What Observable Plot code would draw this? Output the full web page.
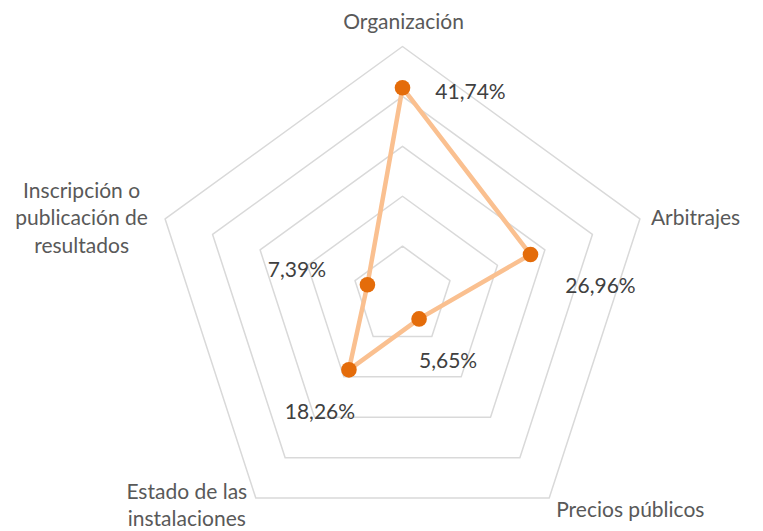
<!DOCTYPE html>
<html>
<head>
<meta charset="utf-8">
<script src="https://cdn.jsdelivr.net/npm/d3@7"></script>
<script src="https://cdn.jsdelivr.net/npm/@observablehq/plot@0.6"></script>
<style>
  body { margin: 0; background: #ffffff; }
  #chart svg { display: block; }
</style>
</head>
<body>
<div id="chart"></div>
<script>
// ---- data ----
const categories = ["Organización", "Arbitrajes", "Precios públicos", "Estado de las\ninstalaciones", "Inscripción o\npublicación de\nresultados"];
const values = [41.74, 26.96, 5.65, 18.26, 7.39];
const valueLabels = ["41,74%", "26,96%", "5,65%", "18,26%", "7,39%"];
const ringTicks = [10, 20, 30, 40, 50];

// ---- layout / style (not data) ----
const W = 763, H = 531;
const CX = 402, CY = 295.6, RPX = 249.6, RMAX = 50;
const k = RPX / RMAX;
const catLabelStyle = [
  {textAnchor: "middle", dx: 1, dy: -26},
  {textAnchor: "start", dx: 11, dy: -3},
  {textAnchor: "start", dx: 7, dy: 10},
  {textAnchor: "middle", dx: -69, dy: 6},
  {textAnchor: "middle", dx: -83.5, dy: -2.5}
];
const valueLabelOffset = [
  {dx: 68, dy: 4.5},
  {dx: 70, dy: 32},
  {dx: 29, dy: 42},
  {dx: -29, dy: 42},
  {dx: -70.5, dy: -14}
];

const n = categories.length;
const ang = i => (i * 2 * Math.PI) / n;
const px = (r, i) => r * Math.sin(ang(i));
const py = (r, i) => r * Math.cos(ang(i));

const rings = ringTicks.flatMap(t => categories.map((c, i) => ({ring: t, x: px(t, i), y: py(t, i)})));
const series = values.map((v, i) => ({cat: categories[i], v, label: valueLabels[i], x: px(v, i), y: py(v, i)}));

const font = "Lato, 'Open Sans', sans-serif";

const marks = [
  Plot.line(rings, {x: "x", y: "y", z: "ring", curve: "linear-closed", stroke: "#d9d9d9", strokeWidth: 1.5}),
  Plot.line(series, {x: "x", y: "y", curve: "linear-closed", stroke: "#fac090", strokeWidth: 4.5, strokeLinejoin: "round"}),
  Plot.dot(series, {x: "x", y: "y", r: 7.8, fill: "#e46c0a", stroke: "none"}),
  ...categories.map((c, i) => Plot.text([c], {
    x: () => px(RMAX, i), y: () => py(RMAX, i), text: d => d,
    textAnchor: catLabelStyle[i].textAnchor, lineAnchor: "middle",
    dx: catLabelStyle[i].dx, dy: catLabelStyle[i].dy,
    fontSize: 21, lineHeight: 1.3, fill: "#595959", fontFamily: font
  })),
  ...series.map((d, i) => Plot.text([d], {
    x: "x", y: "y", text: "label", textAnchor: "middle", lineAnchor: "middle",
    dx: valueLabelOffset[i].dx, dy: valueLabelOffset[i].dy,
    fontSize: 21, fill: "#404040", fontFamily: font
  }))
];

const chart = Plot.plot({
  width: W, height: H,
  marginTop: 0, marginRight: 0, marginBottom: 0, marginLeft: 0,
  x: {domain: [-CX / k, (W - CX) / k], axis: null},
  y: {domain: [-(H - CY) / k, CY / k], axis: null},
  style: {background: "#ffffff", fontFamily: font, overflow: "visible"},
  marks
});
document.getElementById("chart").append(chart);
</script>
</body>
</html>
